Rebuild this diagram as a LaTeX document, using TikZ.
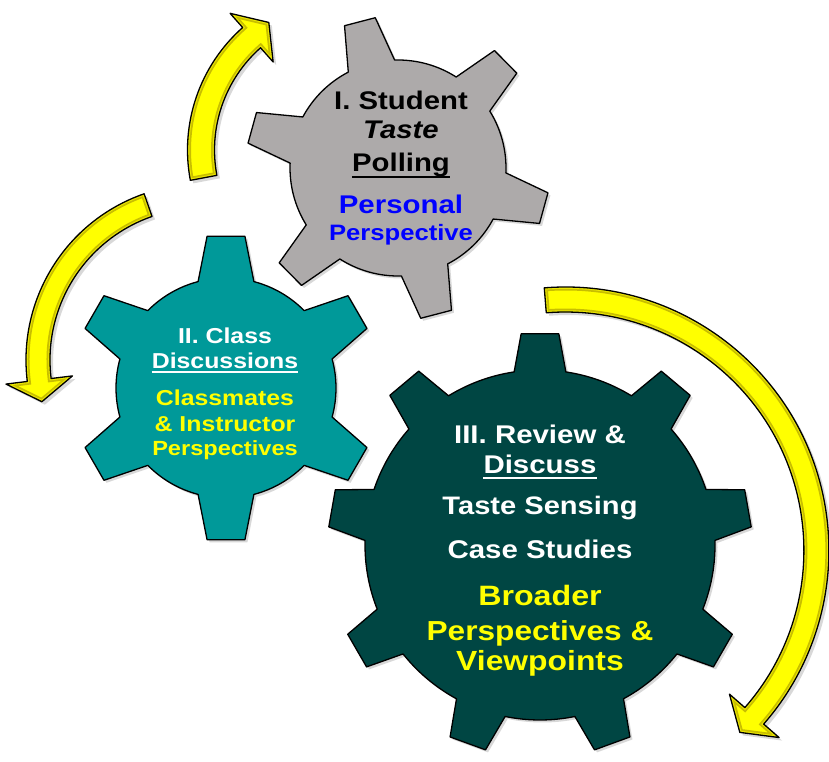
\documentclass[tikz,border=0pt]{standalone}
\usepackage{fontspec}
\newfontfamily\gf{Liberation Sans}[FakeStretch=1.15]
\usetikzlibrary{shadows}
\definecolor{gearI}{RGB}{173,170,170}
\definecolor{gearII}{RGB}{0,153,153}
\definecolor{gearIII}{RGB}{0,70,67}
\definecolor{txtblue}{RGB}{0,0,255}
\definecolor{txtyellow}{RGB}{255,255,0}
\definecolor{arrowyellow}{RGB}{255,255,0}
\definecolor{bevelA}{RGB}{200,190,0}
\definecolor{bevelB}{RGB}{235,230,0}
% gear outline: #1 last index, #2 offset angle, #3 period, #4 body r, #5 tip r, #6 base half angle, #7 tip half angle
\newcommand\gearpath[7]{%
  (#2-#6:#4)
  \foreach \k [evaluate=\k as \ga using #2+\k*#3] in {0,...,#1} {
    -- (\ga-#6:#4) -- (\ga-#7:#5) -- (\ga+#7:#5) -- (\ga+#6:#4)
    arc[start angle=\ga+#6, end angle=\ga+#3-#6, radius=#4]
  } -- cycle}
% curved arrow: #1 centre r, #2 half width, #3 head half width, #4 tail angle, #5 base angle, #6 tip angle, #7 tip radius
\newcommand\arrowpath[7]{%
  (#4:#1+#2) arc[start angle=#4, end angle=#5, radius=#1+#2]
  -- (#5:#1+#3) -- (#6:#7) -- (#5:#1-#3) -- (#5:#1-#2)
  arc[start angle=#5, end angle=#4, radius=#1-#2] -- cycle}
\newcommand\yarrow[9]{%
  \begin{scope}[shift={(#1,#2)}]
    \fill[arrowyellow, drop shadow={shadow xshift=3pt, shadow yshift=-3pt, opacity=.3}] \arrowpath{#3}{#4}{#5}{#6}{#7}{#8}{#9};
    \begin{scope}
      \clip \arrowpath{#3}{#4}{#5}{#6}{#7}{#8}{#9};
      \draw[bevelA, line width=7] \arrowpath{#3}{#4}{#5}{#6}{#7}{#8}{#9};
      \draw[bevelB, line width=3.5] \arrowpath{#3}{#4}{#5}{#6}{#7}{#8}{#9};
    \end{scope}
    \draw[black, line width=1.3, line join=round] \arrowpath{#3}{#4}{#5}{#6}{#7}{#8}{#9};
  \end{scope}}
\begin{document}
\begin{tikzpicture}[x=1pt, y=1pt,
  gearstyle/.style={draw=black, line width=1.3, line join=round,
    drop shadow={shadow xshift=2.5pt, shadow yshift=-2.5pt, opacity=.3}},
  txt/.style={inner sep=0pt, anchor=base, font=\gf\bfseries}]
\fill[white] (0,0) rectangle (829,761);
\useasboundingbox (0,0) rectangle (829,761);

% gears
\draw[gearstyle, fill=gearI, shift={(398,593)}] \gearpath{5}{104.6}{60}{108}{152}{12.8}{6.0};
\draw[gearstyle, fill=gearII, shift={(226,373)}] \gearpath{5}{90}{60}{110}{153}{14.7}{7.1};
\draw[gearstyle, fill=gearIII, shift={(540,216)}] \gearpath{8}{90}{40}{175}{212}{8.5}{5.1};

% arrows
\yarrow{351}{611}{150}{13.5}{32.5}{190.7}{131.5}{122.8}{151.75}
\yarrow{202}{401}{164}{12}{33.5}{109.2}{187}{194.6}{165.5}
\yarrow{565.4}{210.5}{251}{12.5}{33}{94.6}{-41.2}{-46.2}{252}

% gear I text
\node[txt, font=\gf\bfseries\fontsize{25.5}{30}\selectfont] (tIa) at (401,651) {I. Student};
\node[txt, font=\gf\bfseries\itshape\fontsize{25.5}{30}\selectfont] (tIb) at (401,622) {Taste};
\node[txt, font=\gf\bfseries\fontsize{25.5}{30}\selectfont] (tIc) at (401,589.3) {Polling};
\draw[black, line width=2] ([yshift=-5]tIc.base west) -- ([yshift=-5]tIc.base east);
\node[txt, text=txtblue, font=\gf\bfseries\fontsize{25.6}{30}\selectfont] (tId) at (401,547.7) {Personal};
\node[txt, text=txtblue, font=\gf\bfseries\fontsize{22.3}{26}\selectfont] (tIe) at (401,520.3) {Perspective};

% gear II text
\node[txt, text=white, font=\gf\bfseries\fontsize{21.6}{26}\selectfont] (tIIa) at (225,417.7) {II. Class};
\node[txt, text=white, font=\gf\bfseries\fontsize{21.6}{26}\selectfont] (tIIb) at (225,392.7) {Discussions};
\draw[white, line width=1.8] ([yshift=-3.6]tIIb.base west) -- ([yshift=-3.6]tIIb.base east);
\node[txt, text=txtyellow, font=\gf\bfseries\fontsize{21.6}{26}\selectfont] (tIIc) at (225,355.3) {Classmates};
\node[txt, text=txtyellow, font=\gf\bfseries\fontsize{21.6}{26}\selectfont] (tIId) at (225,330) {\& Instructor};
\node[txt, text=txtyellow, font=\gf\bfseries\fontsize{20.5}{26}\selectfont] (tIIe) at (225,306) {Perspectives};

% gear III text
\node[txt, text=white, font=\gf\bfseries\fontsize{25.6}{30}\selectfont] (tIIIa) at (540,317.7) {III. Review \&};
\node[txt, text=white, font=\gf\bfseries\fontsize{25.6}{30}\selectfont] (tIIIb) at (540,287.7) {Discuss};
\draw[white, line width=2] ([yshift=-4.6]tIIIb.base west) -- ([yshift=-4.6]tIIIb.base east);
\node[txt, text=white, font=\gf\bfseries\fontsize{25.3}{30}\selectfont] (tIIIc) at (540,247) {Taste Sensing};
\node[txt, text=white, font=\gf\bfseries\fontsize{25.6}{30}\selectfont] (tIIId) at (540,203) {Case Studies};
\node[txt, text=txtyellow, font=\gf\bfseries\fontsize{28}{32}\selectfont] (tIIIe) at (540,156) {Broader};
\node[txt, text=txtyellow, font=\gf\bfseries\fontsize{27.5}{32}\selectfont] (tIIIf) at (540,121) {Perspectives \&};
\node[txt, text=txtyellow, font=\gf\bfseries\fontsize{27.7}{32}\selectfont] (tIIIg) at (540,91) {Viewpoints};
\end{tikzpicture}
\end{document}
